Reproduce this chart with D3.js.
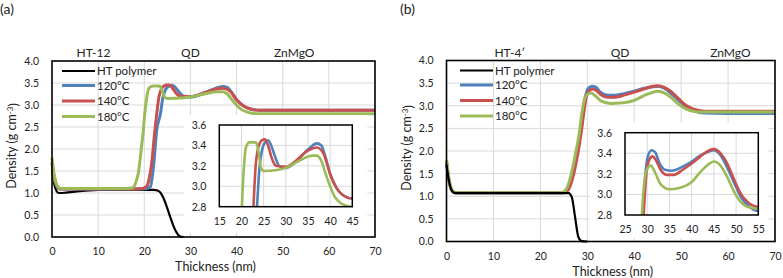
<!DOCTYPE html>
<meta charset="utf-8">
<style>
body { margin: 0; background: #fff; }
svg text { font-family: Lato, "Open Sans", sans-serif; fill: #222; }
.grid line { stroke: #d9d9d9; stroke-width: 1; }
.tick text { font-size: 10.5px; }
</style>
<body>
<script src="https://d3js.org/d3.v7.min.js"></script>
<script>

// series names and colours (legend order)
var seriesNames = ["HT polymer", "120°C", "140°C", "180°C"];
var seriesColors = ["#000000", "#4F81BD", "#C8504D", "#9BBB59"];

// layer labels above each panel
var layersA = [["HT-12", 9], ["QD", 30], ["ZnMgO", 52.5]];
var layersB = [["HT-4\u2032", 13.5], ["QD", 37], ["ZnMgO", 60.5]];

// tick values
var mainXTicks = [0, 10, 20, 30, 40, 50, 60, 70];
var mainYTicks = [0, 0.5, 1, 1.5, 2, 2.5, 3, 3.5, 4];
var insetYTicks = [2.8, 3.0, 3.2, 3.4, 3.6];
var insetXTicksA = [15, 20, 25, 30, 35, 40, 45];
var insetXTicksB = [25, 30, 35, 40, 45, 50, 55];

// (a) HT-12 : [thickness nm, density g/cm3]
var polymerA = [[0,1.55],[0.5,1.2],[1,1.04],[1.5,1.0],[2,1.0],[3,1.01],[5,1.03],[8,1.06],[10,1.07],[17,1.07],[22,1.07],[23,1.05],
  [24,0.92],[25,0.65],[25.6,0.46],[26.7,0.16],[27.8,0.01],[28.5,0]];
var t120A = [[0,1.68],[0.5,1.33],[1,1.16],[1.5,1.1],[2,1.09],[10,1.09],[19.5,1.09],[20.5,1.1],[21.3,1.14],[22,1.6],[22.7,2.43],
  [23.5,2.8],[24,3.15],[24.6,3.35],[25.3,3.43],[26,3.45],[26.7,3.4],[27.5,3.3],[28.5,3.2],[30,3.18],[32,3.23],[35,3.36],
  [37,3.42],[38,3.4],[39,3.28],[40,3.12],[41.5,2.98],[43,2.91],[45,2.88],[55,2.88],[70,2.88]];
var t140A = [[0,1.7],[0.5,1.35],[1,1.17],[1.5,1.1],[2,1.09],[10,1.09],[18,1.09],[19.5,1.1],[20.5,1.15],[21.1,1.35],[21.6,1.68],
  [22.3,2.43],[22.7,2.8],[23.2,3.2],[23.8,3.38],[24.6,3.45],[25.3,3.46],[26,3.4],[26.8,3.28],[27.8,3.2],[30,3.19],[32,3.24],
  [35,3.35],[37,3.38],[38.5,3.32],[40,3.12],[41.5,2.98],[43,2.91],[45,2.88],[55,2.88],[70,2.88]];
var t180A = [[0,1.8],[0.5,1.4],[1,1.2],[1.5,1.12],[2,1.1],[10,1.1],[16,1.1],[17.5,1.12],[18.2,1.25],[18.7,1.45],[19.4,2.05],
  [19.8,2.43],[20.1,2.8],[20.5,3.15],[21,3.38],[21.8,3.43],[23.3,3.43],[23.9,3.32],[24.4,3.18],[25,3.15],[28,3.16],[30,3.18],
  [33,3.25],[36,3.3],[37,3.3],[38,3.25],[39,3.12],[40,3.0],[41,2.9],[42,2.85],[43,2.82],[45,2.8],[55,2.8],[70,2.8]];

// (b) HT-4'
var polymerB = [[0,1.7],[0.5,1.35],[1,1.15],[1.5,1.08],[2,1.07],[10,1.07],[20,1.07],[26,1.07],[26.7,0.98],[27.4,0.54],
  [28.1,0.1],[28.8,0.01],[30,0]];
var t120B = [[0,1.78],[0.5,1.38],[1,1.16],[1.5,1.09],[2,1.08],[10,1.08],[24.8,1.08],[25.8,1.15],[26.8,1.45],[27.8,1.95],[28.5,2.4],
  [29,2.8],[29.5,3.15],[30.2,3.38],[31,3.43],[31.8,3.41],[32.8,3.3],[34,3.24],[35.5,3.23],[38,3.27],[40,3.32],[42,3.38],
  [44,3.42],[45,3.43],[46.5,3.38],[48,3.26],[49.5,3.12],[51,2.98],[52.5,2.9],[55,2.84],[60,2.83],[70,2.83]];
var t140B = [[0,1.75],[0.5,1.36],[1,1.15],[1.5,1.09],[2,1.08],[10,1.08],[25,1.08],[26,1.15],[27,1.45],[28,1.95],[28.7,2.4],
  [29.2,2.8],[29.7,3.15],[30.4,3.33],[31.2,3.37],[32,3.33],[33,3.24],[34.5,3.19],[36,3.19],[38,3.24],[40,3.3],[42,3.37],
  [44,3.43],[45,3.44],[46.5,3.4],[48,3.3],[49.5,3.15],[51,3.01],[52.5,2.93],[55,2.88],[60,2.88],[70,2.88]];
var t180B = [[0,1.8],[0.5,1.4],[1,1.18],[1.5,1.1],[2,1.08],[10,1.08],[24.5,1.08],[25.5,1.15],[26.5,1.45],[27.5,1.95],[28.3,2.4],
  [28.8,2.8],[29.3,3.1],[30,3.25],[30.8,3.28],[31.7,3.22],[33,3.1],[35,3.05],[37,3.06],[40,3.12],[42,3.22],[44,3.3],
  [45,3.32],[46.5,3.28],[48,3.17],[49.5,3.03],[51,2.93],[52.5,2.88],[55,2.86],[60,2.86],[70,2.86]];

var svg = d3.select("body").append("svg")
  .attr("width", 783)
  .attr("height", 278);

var uid = 0;

function drawPanel(p) {
  var g = svg.append("g");
  var x = d3.scaleLinear().domain([0, 70]).range([p.left, p.right]);
  var y = d3.scaleLinear().domain([0, 4]).range([p.bottom, p.top]);

  // panel tag
  g.append("text").attr("x", p.tagX).attr("y", 14).style("font-size", "14px").text(p.tag);

  // gridlines
  var grid = g.append("g").attr("class", "grid");
  grid.selectAll(".h").data(mainYTicks.slice(1, -1)).enter().append("line")
    .attr("x1", p.left).attr("x2", p.right)
    .attr("y1", function(d) { return y(d); }).attr("y2", function(d) { return y(d); });
  grid.selectAll(".v").data(mainXTicks.slice(1, -1)).enter().append("line")
    .attr("y1", p.top).attr("y2", p.bottom)
    .attr("x1", function(d) { return x(d); }).attr("x2", function(d) { return x(d); });

  // axes labels
  g.append("g").attr("class", "axis")
    .attr("transform", "translate(" + p.left + ",0)")
    .call(d3.axisLeft(y).tickValues(mainYTicks).tickFormat(d3.format(".1f")).tickSize(0).tickPadding(13))
    .call(function(a) { a.select(".domain").remove(); });
  g.append("g").attr("class", "axis")
    .attr("transform", "translate(0," + p.bottom + ")")
    .call(d3.axisBottom(x).tickValues(mainXTicks).tickSize(0).tickPadding(11))
    .call(function(a) { a.select(".domain").remove(); });

  g.append("text")
    .attr("x", (p.left + p.right) / 2 + 2).attr("y", p.bottom + 34)
    .attr("text-anchor", "middle").style("font-size", "12.5px")
    .text("Thickness (nm)");

  var yt = g.append("text")
    .attr("transform", "translate(" + (p.left - 40) + "," + ((p.top + p.bottom) / 2 - 3) + ") rotate(-90)")
    .attr("text-anchor", "middle").attr("dy", "0.35em").style("font-size", "12.5px");
  yt.append("tspan").text("Density (g cm");
  yt.append("tspan").attr("dy", "-0.4em").style("font-size", "8px").text("-3");
  yt.append("tspan").attr("dy", "0.4em").text(")");

  // layer labels
  g.selectAll(".layer").data(p.layers).enter().append("text")
    .attr("x", function(d) { return x(d[1]); }).attr("y", p.top - 4)
    .attr("text-anchor", "middle").style("font-size", "12px")
    .text(function(d) { return d[0]; });

  var line = d3.line().curve(d3.curveMonotoneX)
    .x(function(d) { return x(d[0]); }).y(function(d) { return y(d[1]); });

  var order = p.polymerOnTop ? [1, 2, 3, 0] : [0, 1, 2, 3];
  order.forEach(function(i) {
    g.append("path").datum(p.series[i])
      .attr("d", line).attr("fill", "none")
      .attr("stroke", seriesColors[i])
      .attr("stroke-width", i === 0 ? 2.2 : 3)
      .attr("stroke-linejoin", "round");
  });

  // legend
  var leg = g.selectAll(".leg").data(seriesNames).enter().append("g")
    .attr("transform", function(d, i) { return "translate(" + (p.left + p.legendDx) + "," + (p.top + [10, 24.5, 40, 55.5][i]) + ")"; });
  leg.append("line").attr("x1", 0).attr("x2", 33)
    .attr("stroke", function(d, i) { return seriesColors[i]; })
    .attr("stroke-width", function(d, i) { return i === 0 ? 2.2 : 3; });
  leg.append("text").attr("x", 35).attr("dy", "0.35em").style("font-size", "11.5px")
    .text(function(d) { return d; });

  // inset
  var ix = d3.scaleLinear().domain(p.insetX).range([p.inLeft, p.inRight]);
  var iy = d3.scaleLinear().domain([2.8, 3.6]).range([p.inBottom, p.inTop]);
  g.append("rect")
    .attr("x", p.inLeft - 35).attr("y", p.inTop - 10)
    .attr("width", p.inRight - p.inLeft + 35 + p.inPadR)
    .attr("height", p.inBottom - p.inTop + 10 + p.inPadB)
    .attr("fill", "#fff");
  var ig = g.append("g").attr("class", "grid");
  ig.selectAll(".h").data(insetYTicks.slice(1, -1)).enter().append("line")
    .attr("x1", p.inLeft).attr("x2", p.inRight)
    .attr("y1", function(d) { return iy(d); }).attr("y2", function(d) { return iy(d); });
  ig.selectAll(".v").data(p.insetXTicks.slice(1, -1)).enter().append("line")
    .attr("y1", p.inTop).attr("y2", p.inBottom)
    .attr("x1", function(d) { return ix(d); }).attr("x2", function(d) { return ix(d); });

  g.append("g").attr("class", "axis")
    .attr("transform", "translate(" + p.inLeft + ",0)")
    .call(d3.axisLeft(iy).tickValues(insetYTicks).tickFormat(d3.format(".1f")).tickSize(0).tickPadding(13))
    .call(function(a) { a.select(".domain").remove(); });
  g.append("g").attr("class", "axis")
    .attr("transform", "translate(0," + p.inBottom + ")")
    .call(d3.axisBottom(ix).tickValues(p.insetXTicks).tickSize(0).tickPadding(11))
    .call(function(a) { a.select(".domain").remove(); });

  var cid = "clip" + (uid++);
  g.append("clipPath").attr("id", cid).append("rect")
    .attr("x", p.inLeft).attr("y", p.inTop)
    .attr("width", p.inRight - p.inLeft).attr("height", p.inBottom - p.inTop);
  var iline = d3.line().curve(d3.curveMonotoneX)
    .x(function(d) { return ix(d[0]); }).y(function(d) { return iy(d[1]); });
  var ilines = g.append("g").attr("clip-path", "url(#" + cid + ")");
  [1, 2, 3].forEach(function(i) {
    ilines.append("path").datum(p.series[i])
      .attr("d", iline).attr("fill", "none")
      .attr("stroke", seriesColors[i]).attr("stroke-width", 2.6);
  });
  g.append("rect")
    .attr("x", p.inLeft).attr("y", p.inTop)
    .attr("width", p.inRight - p.inLeft).attr("height", p.inBottom - p.inTop)
    .attr("fill", "none").attr("stroke", "#000").attr("stroke-width", 1.5);

  // plot frame
  g.append("rect")
    .attr("x", p.left).attr("y", p.top)
    .attr("width", p.right - p.left).attr("height", p.bottom - p.top)
    .attr("fill", "none").attr("stroke", "#000").attr("stroke-width", 1.6);

  g.selectAll(".axis text").style("fill", "#222").style("font-family", "Lato, sans-serif");
}

drawPanel({
  tag: "(a)", tagX: 0, layers: layersA, polymerOnTop: false,
  series: [polymerA, t120A, t140A, t180A],
  left: 52, right: 375, top: 61, bottom: 237, legendDx: 10,
  insetX: [15, 45], insetXTicks: insetXTicksA,
  inLeft: 219.3, inRight: 352.3, inTop: 125, inBottom: 206.7, inPadR: 15, inPadB: 26
});

drawPanel({
  tag: "(b)", tagX: 400, layers: layersB, polymerOnTop: true,
  series: [polymerB, t120B, t140B, t180B],
  left: 446.5, right: 775, top: 60.5, bottom: 241.5, legendDx: 13.5,
  insetX: [25, 55], insetXTicks: insetXTicksB,
  inLeft: 625, inRight: 758.3, inTop: 132.7, inBottom: 215, inPadR: 10, inPadB: 23
});

</script>
</body>
